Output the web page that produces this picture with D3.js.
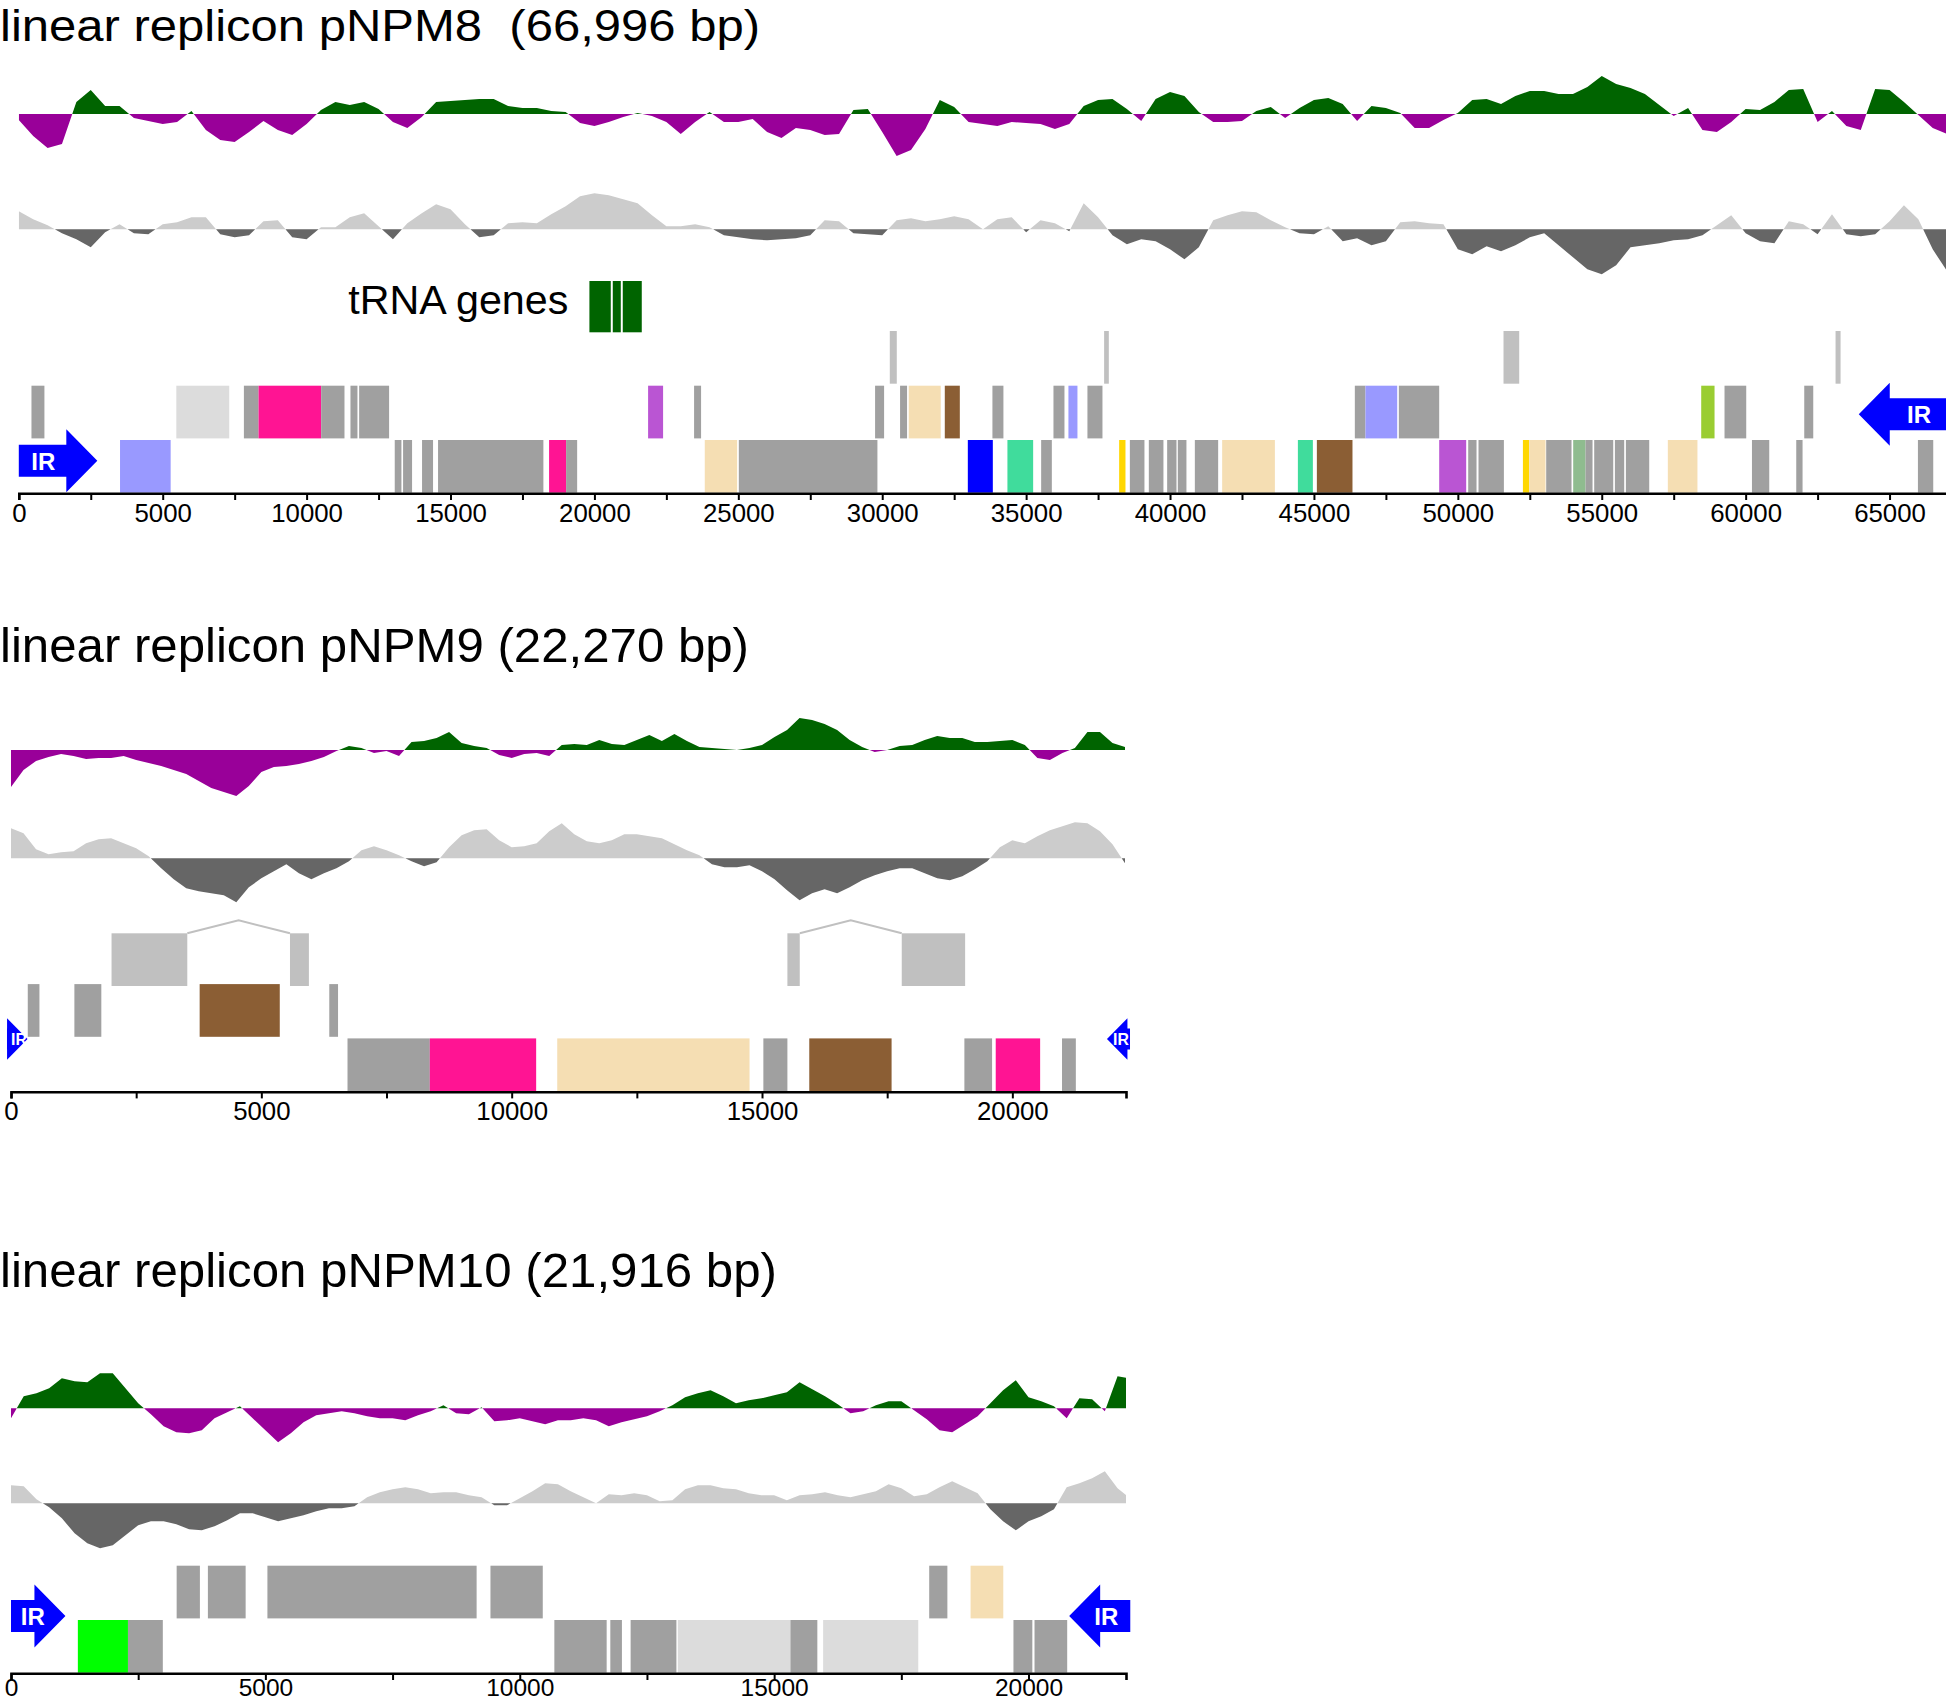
<!DOCTYPE html>
<html><head><meta charset="utf-8">
<script src="https://cdn.jsdelivr.net/npm/d3@7"></script>
<style>body{margin:0;background:#fff}svg{display:block}</style>
</head><body>
<svg id="c" width="1946" height="1702"></svg>
<script>
// ---------------- DATA ----------------
const titles = ["linear replicon pNPM8  (66,996 bp)", "linear replicon pNPM9 (22,270 bp)", "linear replicon pNPM10 (21,916 bp)"];
const repliconLengths = [66996, 22270, 21916];
const windowSteps = [500, 250, 250];

// GC skew (+ = G excess) and GC content deviation, one value per window (arbitrary units)
const pnpm8Skew = [-6,-22,-34,-30,12,24,8,8,-4,-7,-10,-8,3,-16,-26,-28,-18,-7,-16,-21,-10,4,12,9,12,5,-8,-14,-3,12,13,14,15,15,8,6,6,3,2,-9,-12,-8,-3,1,-2,-8,-20,-8,2,-8,-8,-5,-18,-24,-14,-16,-21,-20,4,5,-18,-42,-36,-15,14,7,-8,
  -10,-12,-8,-9,-10,-15,-10,8,14,15,5,-7,15,22,18,2,-8,-8,-7,3,7,-4,6,14,16,10,-7,8,6,1,-14,-14,-6,1,14,15,10,18,23,23,20,20,27,38,30,26,20,9,-2,6,-16,-18,-8,5,4,12,24,25,-8,3,-12,-16,25,24,12,-1,-14,-20];
const pnpm8GC = [18,10,4,-4,-10,-18,-3,5,-4,-5,5,7,12,12,-5,-8,-6,8,9,-8,-10,2,2,12,16,3,-10,6,16,25,20,5,-8,-6,6,7,6,15,23,33,36,34,30,26,14,3,3,5,2,-6,-8,-10,-11,-10,-9,-6,9,8,-4,-5,-6,9,11,8,10,13,10,
  0,10,12,-3,9,6,-2,26,12,-6,-15,-10,-12,-20,-30,-18,9,14,18,17,9,2,-4,-5,3,-12,-9,-16,-12,7,8,6,5,-20,-25,-17,-22,-16,-8,-4,-16,-28,-40,-45,-36,-18,-16,-14,-11,-10,-6,4,14,-4,-12,-14,8,5,-5,15,-5,-7,-5,8,24,10,-20,-42];
const pnpm9Skew = [-37,-20,-11,-7,-4,-6,-9,-8,-8,-6,-10,-13,-16,-20,-24,-31,-38,-42,-46,-36,-22,-17,-16,-14,-11,-7,-1,4,2,-3,-1,-6,8,9,12,18,7,4,2,-5,-8,-4,-3,-6,5,6,5,10,6,5,10,15,9,16,9,3,2,1,0,2,5,13,20,32,30,26,20,10,3,-2,0,4,5,10,14,12,12,8,8,9,10,5,-8,-10,-3,2,18,18,7,3];
const pnpm9GC = [30,25,9,4,6,7,15,19,20,15,10,2,-10,-21,-30,-33,-35,-37,-44,-29,-20,-13,-6,-15,-21,-15,-10,-3,8,12,8,3,-3,-8,-4,11,23,28,29,18,11,12,15,27,35,24,17,15,18,24,24,22,20,14,8,3,-6,-9,-9,-7,-13,-21,-32,-42,-35,-31,-35,-29,-22,-17,-13,-10,-10,-15,-20,-22,-18,-11,-3,11,18,15,22,28,32,36,35,27,14,-5];
const pnpm10Skew = [-10,12,15,20,30,27,26,35,35,20,5,-6,-18,-24,-25,-22,-10,-4,2,-10,-22,-34,-25,-14,-7,-5,-3,-5,-8,-10,-10,-12,-7,-3,3,-5,-6,1,-13,-12,-10,-13,-16,-12,-12,-10,-12,-18,-14,-11,-8,-3,3,11,15,18,12,5,8,10,13,16,26,19,12,4,-5,-3,3,7,7,-2,-11,-22,-24,-16,-8,5,18,28,11,7,2,-10,10,9,-3,32,30];
const pnpm10GC = [18,17,4,-4,-15,-30,-40,-45,-42,-32,-22,-18,-18,-21,-26,-27,-23,-17,-10,-10,-14,-18,-15,-12,-8,-5,-5,-3,6,11,14,16,14,10,11,11,8,6,-2,-2,5,12,20,19,12,6,0,9,8,10,8,2,3,14,18,18,15,14,10,8,8,3,8,9,11,8,6,9,12,19,15,7,9,16,22,16,10,-6,-18,-27,-18,-13,-6,16,20,25,32,15,5];

// genes: [start, end, row, class]
const pnpm8Genes = [
  [19826,20568,0,"trna"],[20638,20916,0,"trna"],[20985,21645,0,"trna"],
  [30263,30506,1,"pale"],[37710,37873,1,"pale"],[51587,52132,1,"pale"],[63124,63298,1,"pale"],
  [440,890,2,"cds"],[5473,7312,2,"faint"],[7821,8330,2,"cds"],[8330,10506,2,"pink"],[10506,11316,2,"cds"],[11524,11767,2,"cds"],[11825,12866,2,"cds"],
  [21865,22386,2,"orchid"],[23463,23706,2,"cds"],[29752,30065,2,"cds"],[30620,30863,2,"cds"],[30921,32033,2,"wheat"],[32174,32696,2,"brown"],
  [33829,34211,2,"cds"],[35950,36332,2,"cds"],[36470,36783,2,"periwinkle"],[37130,37652,2,"cds"],[46421,46790,2,"cds"],[46790,47893,2,"periwinkle"],
  [47950,49352,2,"cds"],[58456,58919,2,"lime"],[59266,60020,2,"cds"],[62036,62349,2,"cds"],
  [3517,5276,3,"periwinkle"],[13062,13294,3,"cds"],[13352,13664,3,"cds"],[14011,14393,3,"cds"],[14567,18227,3,"cds"],[18425,19016,3,"pink"],[19016,19400,3,"cds"],
  [23834,24958,3,"wheat"],[25017,29833,3,"cds"],[32974,33843,3,"blue"],[34350,35244,3,"aqua"],[35522,35893,3,"cds"],[38232,38452,3,"gold"],
  [38604,39111,3,"cds"],[39263,39771,3,"cds"],[39900,40224,3,"cds"],[40271,40570,3,"cds"],[40862,41672,3,"cds"],[41811,43643,3,"wheat"],
  [44442,44963,3,"aqua"],[45102,46339,3,"brown"],[49352,50290,3,"orchid"],[50360,50649,3,"cds"],[50718,51600,3,"cds"],[52261,52480,3,"gold"],
  [52480,53046,3,"wheat"],[53070,53950,3,"cds"],[54008,54437,3,"sage"],[54437,54680,3,"cds"],[54738,55399,3,"cds"],[55457,55780,3,"cds"],
  [55839,56650,3,"cds"],[57296,58325,3,"wheat"],[60219,60820,3,"cds"],[61758,61977,3,"cds"],[65986,66518,3,"cds"]
];
const pnpm9Genes = [
  [2008,3521,1,"pale"],[5572,5950,1,"pale"],[15507,15754,1,"pale"],[17791,19057,1,"pale"],
  [335,568,2,"cds"],[1266,1804,2,"cds"],[3768,5368,2,"brown"],[6357,6532,2,"cds"],
  [6721,8365,3,"cds"],[8365,10489,3,"pink"],[10910,14751,3,"wheat"],[15027,15507,3,"cds"],[15944,17588,3,"brown"],
  [19042,19595,3,"cds"],[19668,20555,3,"pink"],[20992,21268,3,"cds"]
];
const pnpm10Genes = [
  [3256,3713,2,"cds"],[3870,4612,2,"cds"],[5040,9152,2,"cds"],[9424,10452,2,"cds"],[18048,18405,2,"cds"],[18861,19504,2,"wheat"],
  [1314,2299,3,"green"],[2299,2984,3,"cds"],[10680,11708,3,"cds"],[11780,12008,3,"cds"],[12179,13079,3,"cds"],[13107,15320,3,"faint"],
  [15320,15849,3,"cds"],[15963,17833,3,"faint"],[19704,20075,3,"cds"],[20118,20760,3,"cds"]
];
// split genes joined by a hat line: [end of first part, start of second part]
const pnpm9Joins = [[3521,5572],[15754,17791]];
// inverted repeats: [start, end, direction]
const pnpm8IR = [[0,2728,1],[63930,67400,-1]];
const pnpm9IR = [[-80,330,1],[21890,22350,-1]];
const pnpm10IR = [[0,1070,1],[20799,22000,-1]];

// ---------------- STYLE / LAYOUT ----------------
const geneColors = {cds:"#a0a0a0", pale:"#c0c0c0", faint:"#dcdcdc", pink:"#ff1493", periwinkle:"#9999ff", wheat:"#f5deb3",
  brown:"#8b5e34", blue:"#0000ff", aqua:"#40dc9c", orchid:"#ba55d3", gold:"#ffd700", lime:"#9acd32", sage:"#8fbc8f",
  green:"#00ff00", trna:"#006400"};
const FONT = "'Liberation Sans', Arial, Helvetica, sans-serif";
const layouts = [
  {titleY:40.5, titleSize:44.5, titleLen:760, x0:18.8, x1:1947, skewY:114, gcY:229.3, axisY:493.3, row1:331, irY:[460.7,414.3], irK:1, irText:[24.5,-27], tickPad:3.6, tickSize:25.8},
  {titleY:661.7, titleSize:48, titleLen:749, x0:11, x1:1126, skewY:750, gcY:858.3, axisY:1091.7, row1:933.3, irY:[1039,1039], irK:0.66, irText:[12,-9], tickPad:3.6, tickSize:25.8},
  {titleY:1286.7, titleSize:48, titleLen:777, x0:11, x1:1126, skewY:1408.3, gcY:1503.3, axisY:1673.3, row1:1511, irY:[1616,1616], irK:1, irText:[21.8,-24], tickPad:-1.8, tickSize:24.5}
];
const skews = [pnpm8Skew, pnpm9Skew, pnpm10Skew];
const gcs = [pnpm8GC, pnpm9GC, pnpm10GC];
const genes = [pnpm8Genes, pnpm9Genes, pnpm10Genes];
const joins = [[], pnpm9Joins, []];
const irs = [pnpm8IR, pnpm9IR, pnpm10IR];

const svg = d3.select("#c");
svg.append("rect").attr("width",1946).attr("height",1702).attr("fill","#fff");

function withCrossings(vals, step){
  const pts=[];
  vals.forEach((v,i)=>{
    if(i>0){const pv=vals[i-1]; if((pv>0&&v<0)||(pv<0&&v>0)){const t=pv/(pv-v); pts.push([(i-1+t)*step,0]);}}
    pts.push([i*step,v]);
  });
  return pts;
}

layouts.forEach((L,k)=>{
  const len = repliconLengths[k], step = windowSteps[k];
  const x = d3.scaleLinear().domain([0,len]).range([L.x0,L.x1]);
  const g = svg.append("g");
  const clipId = "clip"+k;
  svg.append("clipPath").attr("id",clipId).append("rect").attr("x",L.x0).attr("y",0).attr("width",L.x1-L.x0).attr("height",1702);

  // title
  g.append("text").attr("x",0).attr("y",L.titleY).attr("font-family",FONT).attr("font-size",L.titleSize)
    .style("white-space","pre").attr("xml:space","preserve")
    .attr("textLength",L.titleLen).attr("lengthAdjust","spacingAndGlyphs").attr("fill","#000").text(titles[k]);

  // profiles
  function profile(vals, zeroY, posColor, negColor){
    const y = d3.scaleLinear().domain([-50,50]).range([zeroY+50, zeroY-50]);
    const pts = withCrossings(vals, step);
    const area = d3.area().x(d=>x(d[0])).y0(y(0)).y1(d=>y(d[1]));
    const pg = g.append("g").attr("clip-path",`url(#${clipId})`);
    pg.append("path").attr("d",area(pts.map(p=>[p[0],Math.max(0,p[1])]))).attr("fill",posColor);
    pg.append("path").attr("d",area(pts.map(p=>[p[0],Math.min(0,p[1])]))).attr("fill",negColor);
  }
  profile(skews[k], L.skewY, "#006400", "#990099");
  profile(gcs[k], L.gcY, "#cccccc", "#666666");

  // gene rows
  const rowTop = r => r===0 ? L.axisY-212.3 : r===1 ? L.row1 : r===2 ? L.axisY-107.6 : L.axisY-53.3;
  const rowH = r => r===0 ? 51.3 : 52.7;
  g.append("g").selectAll("rect").data(genes[k]).join("rect")
    .attr("x",d=>x(d[0])).attr("width",d=>x(d[1])-x(d[0]))
    .attr("y",d=>rowTop(d[2])).attr("height",d=>rowH(d[2]))
    .attr("fill",d=>geneColors[d[3]]);
  // joins for split genes
  g.append("g").selectAll("polyline").data(joins[k]).join("polyline")
    .attr("points",d=>{const a=x(d[0]),b=x(d[1]),t=rowTop(1);return `${a},${t} ${(a+b)/2},${t-13} ${b},${t}`;})
    .attr("fill","none").attr("stroke","#c0c0c0").attr("stroke-width",2);

  // IR arrows
  const K=L.irK, hl=31*K, bh=16*K, hh=31.5*K;
  irs[k].forEach((d,i)=>{
    const cy=L.irY[i], a=x(d[0]), b=x(d[1]);
    let p;
    if(d[2]>0) p=`M${a},${cy-bh}L${b-hl},${cy-bh}L${b-hl},${cy-hh}L${b},${cy}L${b-hl},${cy+hh}L${b-hl},${cy+bh}L${a},${cy+bh}Z`;
    else p=`M${b},${cy-bh}L${a+hl},${cy-bh}L${a+hl},${cy-hh}L${a},${cy}L${a+hl},${cy+hh}L${a+hl},${cy+bh}L${b},${cy+bh}Z`;
    g.append("path").attr("d",p).attr("fill","#0000ff");
    const tx = d[2]>0 ? a+L.irText[0] : Math.min(b,1946)+L.irText[1];
    g.append("text").attr("x",tx).attr("y",cy+9*K).attr("text-anchor","middle").attr("font-family",FONT)
      .attr("font-weight","bold").attr("font-size",24*K).attr("fill","#fff").text("IR");
  });

  // axis
  const axis = d3.axisBottom(x).tickValues(d3.range(0,len+1,2500)).tickFormat(d=>d%5000===0?d:"")
    .tickSize(6.7).tickSizeOuter(6.7).tickPadding(L.tickPad);
  const ag = g.append("g").attr("transform",`translate(0,${L.axisY})`).call(axis);
  ag.select(".domain").attr("stroke","#000").attr("stroke-width",2.6);
  ag.selectAll(".tick line").attr("stroke","#000").attr("stroke-width",2);
  ag.selectAll(".tick text").attr("font-family",FONT).attr("font-size",L.tickSize).attr("fill","#000");
});

// tRNA label
svg.append("text").attr("x",348.3).attr("y",314).attr("font-family",FONT).attr("font-size",40.8)
  .attr("textLength",220).attr("lengthAdjust","spacingAndGlyphs").attr("fill","#000").text("tRNA genes");
</script>
</body></html>
